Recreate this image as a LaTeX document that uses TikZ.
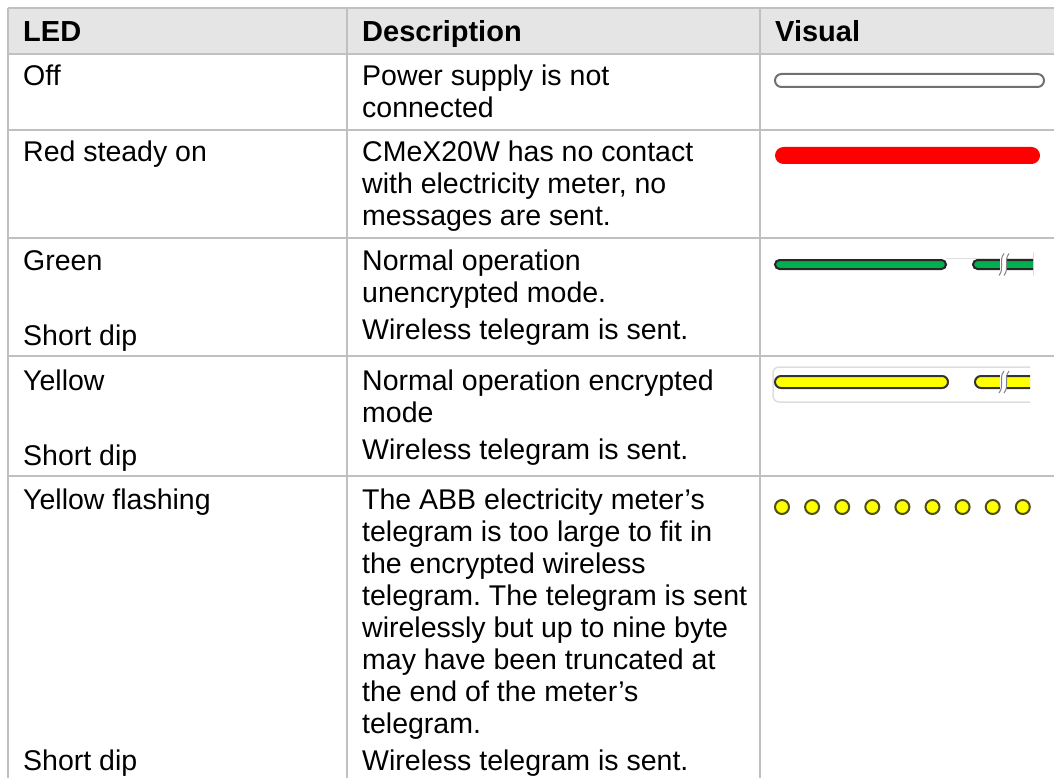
\documentclass[tikz,border=0pt]{standalone}
\usepackage{fontspec}
\setmainfont{Liberation Sans}
\frenchspacing

\definecolor{rulegray}{RGB}{192,192,192}
\definecolor{headgray}{RGB}{229,229,229}
\definecolor{ledred}{RGB}{255,0,0}
\definecolor{ledgreen}{RGB}{0,176,80}
\definecolor{ledyellow}{RGB}{255,255,0}
\definecolor{rimgray}{RGB}{112,112,112}
\definecolor{rimolive}{RGB}{80,80,20}
\definecolor{trackgray}{RGB}{222,222,222}

\newcommand\lines[1]{\begin{tabular}[t]{@{}l@{}}#1\end{tabular}}

\tikzset{
	cell/.style={anchor=base west, inner sep=0pt, font=\fontsize{28.5}{32}\selectfont},
	head/.style={anchor=base west, inner sep=0pt, font=\fontsize{29}{32}\selectfont\bfseries},
	rule/.style={draw=rulegray, line width=2pt},
	bar/.style={line width=2pt, rounded corners=4.5pt},
}

\begin{document}
\begin{tikzpicture}[x=1pt, y=-1pt]
	\def\brk#1#2{
		\fill[white] (#1-3,#2-10) rectangle (#1+3,#2+10);
		\draw[gray, line width=1pt] (#1-4,#2+11) .. controls (#1+2,#2+3) and (#1-5,#2-3) .. (#1+1,#2-11);
		\draw[gray, line width=1pt] (#1+1,#2+11) .. controls (#1+7,#2+3) and (#1,#2-3) .. (#1+6,#2-11);
	}
	\useasboundingbox (0,0) rectangle (1054,778);

	\fill[headgray] (8,8) rectangle (1054,54);
	\foreach \y in {8,54,130,238,356,476} {\draw[rule] (8,\y) -- (1054,\y);}
	\foreach \x in {8,347,760} {\draw[rule] (\x,8) -- (\x,778);}

	\node[head] (ledh) at (23,42) {LED};
	\node[head] (desch) at (362,42) {Description};
	\node[head] (vish) at (775,42) {Visual};

	\node[cell] (led1) at (23,86) {Off};
	\node[cell] (desc1) at (362,86) {\lines{Power supply is not\\connected}};

	\node[cell] (led2) at (23,162) {Red steady on};
	\node[cell] (desc2) at (362,162) {\lines{CMeX20W has no contact\\with electricity meter, no\\messages are sent.}};

	\node[cell] (led3) at (23,270) {Green};
	\node[cell] (dip3) at (23,345) {Short dip};
	\node[cell] (desc3) at (362,270) {\lines{Normal operation\\unencrypted mode.}};
	\node[cell] (sent3) at (362,339) {Wireless telegram is sent.};

	\node[cell] (led4) at (23,390) {Yellow};
	\node[cell] (dip4) at (23,465) {Short dip};
	\node[cell] (desc4) at (362,390) {\lines{Normal operation encrypted\\mode}};
	\node[cell] (sent4) at (362,459) {Wireless telegram is sent.};

	\node[cell] (led5) at (23,509) {Yellow flashing};
	\node[cell] (dip5) at (23,770) {Short dip};
	\node[cell] (desc5) at (362,509) {\lines{The ABB electricity meter’s\\telegram is too large to fit in\\the encrypted wireless\\telegram. The telegram is sent\\wirelessly but up to nine byte\\may have been truncated at\\the end of the meter’s\\telegram.}};
	\node[cell] (sent5) at (362,770) {Wireless telegram is sent.};

	\draw[bar, draw=rimgray, fill=white, rounded corners=6.5pt] (775,74) rectangle (1044,87);
	\fill[ledred, rounded corners=8.5pt] (775,147) rectangle (1040,164);

	\draw[trackgray, line width=1pt] (946,258) -- (1033,258) (1033,252) -- (1033,276);
	\draw[bar, fill=ledgreen, draw=black!85] (775,260) rectangle (946,269);
	\begin{scope}
		\clip (960,250) rectangle (1033,280);
		\draw[bar, fill=ledgreen, draw=black!85] (973,260) rectangle (1050,269);
	\end{scope}
	\brk{1003}{264.5}

	\draw[trackgray, line width=1.5pt, rounded corners=6pt] (1030,367) -- (773,367) -- (773,402) -- (1030,402);
	\draw[bar, fill=ledyellow, draw=black!80, rounded corners=6pt] (775,376) rectangle (948,388);
	\begin{scope}
		\clip (960,365) rectangle (1030,400);
		\draw[bar, fill=ledyellow, draw=black!80, rounded corners=6pt] (975,376) rectangle (1050,388);
	\end{scope}
	\brk{1003}{382}

	\foreach \i in {0,...,8} {\draw[fill=ledyellow, draw=rimolive, line width=2pt] (782+30.1*\i,507) circle (7);}
\end{tikzpicture}
\end{document}
